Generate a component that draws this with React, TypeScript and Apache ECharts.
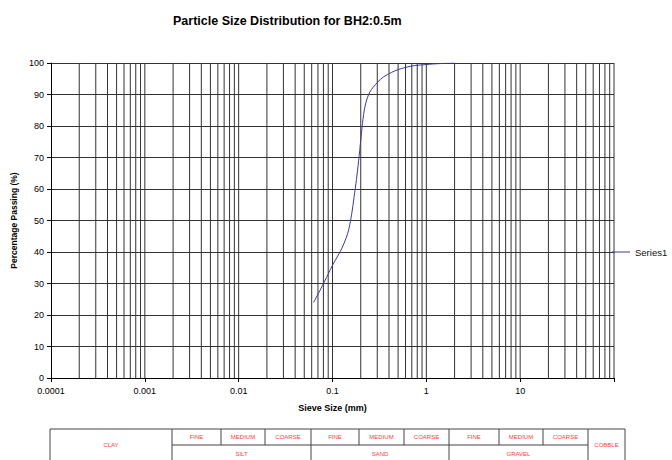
import React, { useEffect, useRef } from "react";
import * as echarts from "echarts";

const sieveSizes = [0.063, 0.075, 0.09, 0.1, 0.115, 0.126, 0.14, 0.15, 0.16, 0.17, 0.18, 0.19, 0.2, 0.212, 0.225, 0.25, 0.3, 0.35, 0.425, 0.5, 0.6, 0.75, 1.0, 1.18, 1.5, 2.0];
const percentPassing = [24, 28.3, 33, 35.8, 39, 41.2, 44.5, 47.5, 52, 57.5, 63, 69, 75.5, 82.5, 87, 90.8, 93.8, 95.6, 97, 97.9, 98.6, 99.2, 99.5, 99.7, 99.85, 100];

const xTickLabels = ["0.0001", "0.001", "0.01", "0.1", "1", "10"];
const decades = [0.0001, 0.001, 0.01, 0.1, 1, 10];
const multiples = [1, 2, 3, 4, 5, 6, 7, 8, 9];

const topRowLabels = ["FINE", "MEDIUM", "COARSE", "FINE", "MEDIUM", "COARSE", "FINE", "MEDIUM", "COARSE"];
const groupLabels = ["SILT", "SAND", "GRAVEL"];
const sideLabels = ["CLAY", "COBBLE"];

const FONT = "'Liberation Sans', Arial, sans-serif";

export default function App() {
  const ref = useRef<HTMLDivElement>(null);
  useEffect(() => {
    if (!ref.current) return;
    const chart = echarts.init(ref.current, undefined, { renderer: "svg" });

    const gridValues: number[] = [];
    decades.forEach((d) => multiples.forEach((m) => {
      const v = +(d * m).toPrecision(6);
      if (v > 0.0001) gridValues.push(v);
    }));
    gridValues.push(100);

    // table layout
    const colX = [50, 172, 221, 265, 311, 359, 404, 449, 499, 543, 588, 625];
    const rowY = [429, 445, 463];
    const tColor = "#ff3b3b";
    const bColor = "#444";
    const g: any[] = [];
    g.push({ type: "rect", shape: { x: colX[0], y: rowY[0], width: colX[11] - colX[0], height: rowY[2] - rowY[0] }, style: { fill: "#fff", stroke: bColor, lineWidth: 1 } });
    g.push({ type: "line", shape: { x1: colX[1], y1: rowY[1], x2: colX[10], y2: rowY[1] }, style: { stroke: bColor, lineWidth: 1 } });
    for (let i = 1; i <= 10; i++) {
      const isGroup = i === 1 || i === 4 || i === 7 || i === 10;
      g.push({ type: "line", shape: { x1: colX[i], y1: rowY[0], x2: colX[i], y2: isGroup ? rowY[2] : rowY[1] }, style: { stroke: bColor, lineWidth: 1 } });
    }
    topRowLabels.forEach((t, i) => {
      g.push({ type: "text", x: (colX[i + 1] + colX[i + 2]) / 2, y: (rowY[0] + rowY[1]) / 2, style: { text: t, fill: tColor, font: `6px ${FONT}`, align: "center", verticalAlign: "middle" } });
    });
    groupLabels.forEach((t, i) => {
      g.push({ type: "text", x: (colX[1 + i * 3] + colX[4 + i * 3]) / 2, y: rowY[1] + 9, style: { text: t, fill: tColor, font: `6px ${FONT}`, align: "center", verticalAlign: "middle" } });
    });
    g.push({ type: "text", x: (colX[0] + colX[1]) / 2, y: 445, style: { text: sideLabels[0], fill: tColor, font: `6px ${FONT}`, align: "center", verticalAlign: "middle" } });
    g.push({ type: "text", x: (colX[10] + colX[11]) / 2, y: 445, style: { text: sideLabels[1], fill: tColor, font: `6px ${FONT}`, align: "center", verticalAlign: "middle" } });

    chart.setOption({
      animation: false,
      backgroundColor: "#fff",
      textStyle: { fontFamily: FONT },
      title: {
        text: "Particle Size Distribution for BH2:0.5m",
        left: 168,
        top: 9,
        textStyle: { fontSize: 12.5, fontWeight: "bold", color: "#000", fontFamily: FONT },
      },
      legend: {
        data: ["Series1"],
        left: 612,
        top: 247,
        padding: 0,
        icon: "rect",
        itemWidth: 18,
        itemHeight: 1,
        textStyle: { fontSize: 9.5, color: "#111", fontFamily: FONT },
      },
      grid: { left: 51, right: 58, top: 63, bottom: 82 },
      xAxis: {
        type: "log",
        logBase: 10,
        min: 0.0001,
        max: 100,
        splitNumber: 6,
        name: "Sieve Size (mm)",
        nameLocation: "middle",
        nameGap: 25,
        nameTextStyle: { fontSize: 9, fontWeight: "bold", color: "#000", fontFamily: FONT },
        axisLine: { lineStyle: { color: "#000", width: 1 } },
        axisTick: { show: true, inside: false, length: 4, lineStyle: { color: "#000" } },
        axisLabel: {
          fontSize: 9,
          color: "#000",
          margin: 8,
          formatter: (v: number) => {
            const e = Math.round(Math.log10(v));
            return e >= 2 ? "" : xTickLabels[e + 4];
          },
        },
        splitLine: { show: false },
      },
      yAxis: {
        type: "value",
        min: 0,
        max: 100,
        interval: 10,
        name: "Percentage Passing (%)",
        nameLocation: "middle",
        nameGap: 29,
        nameTextStyle: { fontSize: 8.5, fontWeight: "bold", color: "#000", fontFamily: FONT },
        axisLine: { show: true, lineStyle: { color: "#000", width: 1 } },
        axisTick: { show: true, inside: false, length: 4, lineStyle: { color: "#000" } },
        axisLabel: { fontSize: 9, color: "#000", margin: 7 },
        splitLine: { show: true, lineStyle: { color: "#333", width: 1 } },
      },
      series: [
        {
          name: "grid",
          type: "custom",
          silent: true,
          z: 1,
          data: gridValues.map((v) => [v]),
          encode: { x: 0 },
          clip: false,
          renderItem: (params: any, api: any) => {
            const v = api.value(0);
            const top = api.coord([v, 100]);
            const bot = api.coord([v, 0]);
            return {
              type: "line",
              shape: { x1: top[0], y1: top[1], x2: bot[0], y2: bot[1] },
              style: { stroke: "#333", lineWidth: 1 },
            };
          },
        },
        {
          name: "Series1",
          type: "line",
          data: sieveSizes.map((s, i) => [s, percentPassing[i]]),
          showSymbol: false,
          symbol: "none",
          smooth: 0.3,
          z: 5,
          lineStyle: { color: "#3a3a9a", width: 1 },
          itemStyle: { color: "#3a3a9a" },
        },
      ],
      graphic: g,
    });
    return () => chart.dispose();
  }, []);
  return <div ref={ref} style={{ position: "fixed", left: 0, top: 0, width: 672, height: 460 }} />;
}
